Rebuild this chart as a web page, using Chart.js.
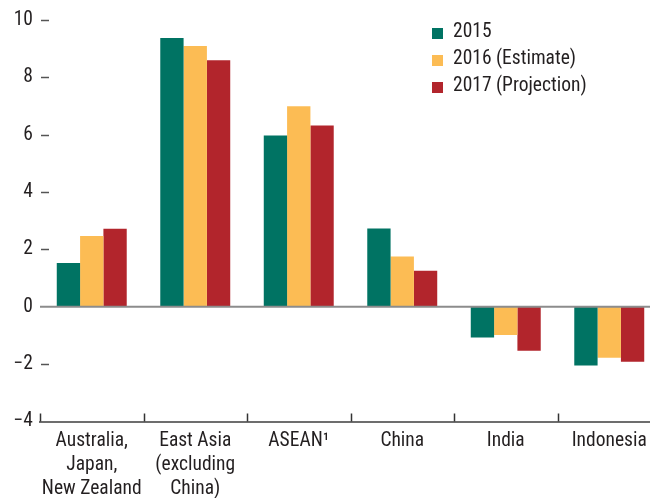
<!DOCTYPE html>
<html>
<head>
<meta charset="utf-8">
<script src="https://cdn.jsdelivr.net/npm/chart.js@4.4.0/dist/chart.umd.min.js"></script>
<style>
html, body { margin: 0; padding: 0; background: #fff; overflow: hidden; }
#wrap { position: relative; width: 662px; height: 498px; }
</style>
</head>
<body>
<div id="wrap"><canvas id="chart-growth"></canvas></div>
<script>
var regions = [["Australia,", "Japan,", "New Zealand"], ["East Asia", "(excluding", "China)"], "ASEAN\u00b9", "China", "India", "Indonesia"];
var years = ["2015", "2016 (Estimate)", "2017 (Projection)"];
var values2015 = [1.53, 9.37, 5.97, 2.73, -1.07, -2.05];
var values2016 = [2.47, 9.09, 6.99, 1.75, -0.98, -1.78];
var values2017 = [2.72, 8.60, 6.32, 1.26, -1.53, -1.92];
var yMin = -4, yMax = 10, yStep = 2;
var colors = ["#007363", "#fcbc54", "#b2252c"];

var font = "'Liberation Sans Narrow', 'Arial Narrow', 'Roboto Condensed', sans-serif";
var fontSize = 19.5;
var textColor = "#231f20";

// ticks, zero line and legend are drawn by hand, the chart has none of them in this style
var axisMarks = {
    id: 'axisMarks',
    afterDatasetsDraw: function(chart) {
        var c = chart.ctx, area = chart.chartArea, x = chart.scales.x, y = chart.scales.y;
        c.save();
        var y0 = y.getPixelForValue(0);
        c.strokeStyle = '#8c8c8c';
        c.lineWidth = 2;
        c.beginPath(); c.moveTo(area.left, y0); c.lineTo(area.right, y0); c.stroke();

        c.strokeStyle = '#555';
        c.lineWidth = 1.5;
        y.ticks.forEach(function(t) {
            if (t.value === 0 || t.value === yMin) return;
            var py = Math.round(y.getPixelForValue(t.value)) + 0.5;
            c.beginPath(); c.moveTo(area.left + 1, py); c.lineTo(area.left + 9, py); c.stroke();
        });

        c.strokeStyle = '#333';
        var step = x.width / regions.length;
        for (var i = 0; i <= regions.length; i++) {
            var px = Math.round(x.left + i * step) + 0.5;
            c.beginPath(); c.moveTo(px, area.bottom); c.lineTo(px, area.bottom - 8); c.stroke();
        }

        c.font = fontSize + 'px ' + font;
        c.textBaseline = 'middle';
        c.textAlign = 'left';
        chart.data.datasets.forEach(function(ds, i) {
            var cy = 33 + i * 27;
            c.fillStyle = ds.backgroundColor;
            c.fillRect(432, cy - 5, 11, 11);
            c.fillStyle = textColor;
            c.fillText(ds.label, 453, cy - 1);
        });
        c.restore();
    }
};

var ctx = document.getElementById('chart-growth');
var growthChart = new Chart(ctx, {
    type: 'bar',
    data: {
        labels: regions,
        datasets: [
            { label: years[0], data: values2015, backgroundColor: colors[0] },
            { label: years[1], data: values2016, backgroundColor: colors[1] },
            { label: years[2], data: values2017, backgroundColor: colors[2] }
        ]
    },
    options: {
        responsive: true,
        maintainAspectRatio: false,
        animation: false,
        layout: { padding: { top: 20, right: 1, left: 0, bottom: 0 } },
        plugins: {
            legend: { display: false },
            tooltip: { enabled: false }
        },
        datasets: {
            bar: { barPercentage: 1, categoryPercentage: 0.676 }
        },
        scales: {
            x: {
                grid: { display: false, drawTicks: false },
                border: { display: true, color: '#6d6d6d', width: 2 },
                ticks: { color: textColor, font: { family: font, size: fontSize, lineHeight: 1.22 }, padding: 8, maxRotation: 0, autoSkip: false },
                afterFit: function(scale) { scale.height = 76.5; }
            },
            y: {
                min: yMin,
                max: yMax,
                grid: { display: false, drawTicks: false },
                border: { display: false },
                ticks: {
                    stepSize: yStep,
                    color: textColor,
                    padding: 7,
                    font: { family: font, size: fontSize },
                    callback: function(v) { return v < 0 ? '\u2212' + Math.abs(v) : String(v); }
                },
                afterFit: function(scale) { scale.width = 40; }
            }
        }
    },
    plugins: [axisMarks]
});
</script>
</body>
</html>
